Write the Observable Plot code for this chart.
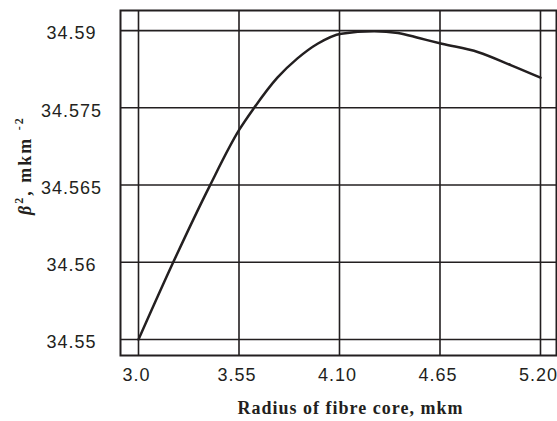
<!DOCTYPE html>
<html>
<head>
<meta charset="utf-8">
<script src="https://cdn.jsdelivr.net/npm/d3@7"></script>
<script src="https://cdn.jsdelivr.net/npm/@observablehq/plot@0.6"></script>
<style>
  html, body { margin: 0; padding: 0; background: #fff; }
  g[aria-description="tick-labels"] text { letter-spacing: 1px; }
  g[aria-description="x-title"] text { letter-spacing: 1px; }
  g[aria-description="y-title"] text { letter-spacing: 2px; }
</style>
</head>
<body>
<div id="chart"></div>
<script>
const xTicks = [3.0, 3.55, 4.10, 4.65, 5.20];
const xTickLabels = ["3.0", "3.55", "4.10", "4.65", "5.20"];
const yTicks = [34.55, 34.56, 34.57, 34.58, 34.59];
const yTickLabels = ["34.55", "34.56", "34.565", "34.575", "34.59"];

const radius = [3.0, 3.19, 3.39, 3.55, 3.63, 3.76, 3.87, 3.98, 4.11, 4.29, 4.42, 4.54, 4.66, 4.86, 5.04, 5.20];
const beta2  = [34.55, 34.56, 34.5699, 34.5771, 34.5799, 34.5839, 34.5864, 34.5883, 34.5896, 34.5899, 34.5897, 34.5890, 34.5883, 34.5872, 34.5855, 34.5839];

const xTitle = "Radius of fibre core, mkm";
const yTitle = "β2, mkm -2";

const data = radius.map((r, i) => ({r, b: beta2[i]}));
const ink = "#231f20";

const chart = Plot.plot({
  width: 557,
  height: 421,
  marginLeft: 120,
  marginRight: 1,
  marginTop: 10,
  marginBottom: 66,
  x: {domain: [2.9015, 5.2876], axis: null},
  y: {domain: [34.54793, 34.5926], axis: null},
  style: {fontFamily: "'Liberation Sans', Arial, sans-serif", color: ink, background: "#fff"},
  marks: [
    Plot.ruleX(xTicks, {x: d => d, stroke: ink, strokeWidth: 1.6}),
    Plot.ruleY(yTicks, {y: d => d, stroke: ink, strokeWidth: 1.6}),
    Plot.frame({stroke: ink, strokeWidth: 2}),
    Plot.line(data, {x: "r", y: "b", curve: "monotone-x", stroke: ink, strokeWidth: 2.5}),
    Plot.text(xTicks, {x: d => d, frameAnchor: "bottom", dy: 25, dx: -2,
      text: (d, i) => xTickLabels[i], fontSize: 18, fill: ink, ariaDescription: "tick-labels"}),
    Plot.text(yTicks, {y: d => d, frameAnchor: "left", dx: -49, dy: 3,
      text: (d, i) => yTickLabels[i], textAnchor: "middle", fontSize: 18, fill: ink, ariaDescription: "tick-labels"}),
    Plot.text([xTitle], {frameAnchor: "bottom", dx: 12, dy: 58, text: d => d,
      fontFamily: "'Liberation Serif', 'Times New Roman', serif", fontWeight: "bold", fontSize: 18, fill: ink, ariaDescription: "x-title"}),
    Plot.text([yTitle], {frameAnchor: "left", dx: -95, dy: 32, rotate: -90, text: d => d,
      fontFamily: "'Liberation Serif', 'Times New Roman', serif", fontWeight: "bold", fontSize: 18, fill: ink, ariaDescription: "y-title"})
  ]
});
document.getElementById("chart").appendChild(chart);

// Rich formatting of the y title: italic beta and superscripts
const yt = d3.select(chart).select('g[aria-description="y-title"] text');
if (!yt.empty()) {
  yt.text(null);
  yt.append("tspan").attr("font-style", "italic").text("β");
  yt.append("tspan").attr("font-size", 12).attr("dy", -8).text("2");
  yt.append("tspan").attr("dy", 8).text(", mkm ");
  yt.append("tspan").attr("font-size", 12).attr("dy", -8).text("-2");
}
</script>
</body>
</html>
